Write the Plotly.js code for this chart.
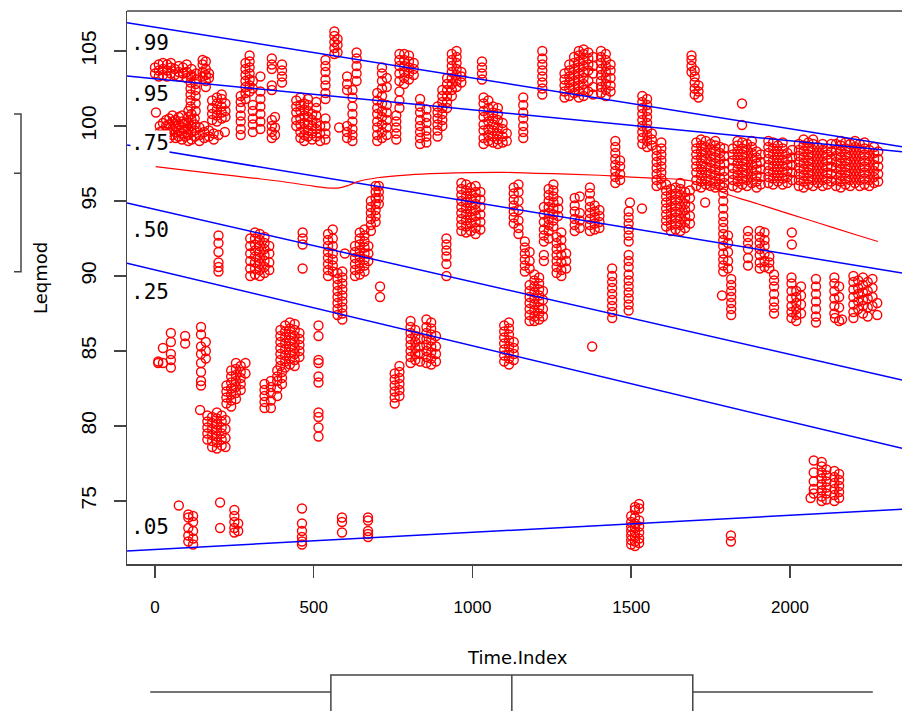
<!DOCTYPE html>
<html>
<head>
<meta charset="utf-8">
<script src="https://cdn.plot.ly/plotly-3.0.1.min.js"></script>
<style>html,body{margin:0;padding:0;background:#fff;}#chart{width:902px;height:711px;}</style>
</head>
<body>
<div id="chart"></div>
<script>
// ---- DATA: columns of points, each entry = [Time.Index, Leqmod values...] ----
const bandTop = [
  [3, 100.9],
  [0, 103.5, 103.9], [12, 103.3, 103.7, 104.1], [25, 103.4, 103.8, 104.2], [38, 103.3, 103.7, 104.1],
  [50, 103.5, 103.9, 104.2], [62, 103.4, 103.8], [75, 103.3, 103.6, 104.0], [88, 103.5, 103.9],
  [100, 103.2, 103.6, 104.1], [115, 103.4, 103.8], [130, 103.1, 103.5], [150, 103.3, 103.6, 104.1, 104.4],
  [170, 103.2, 103.5],
  [15, 99.6, 100.0], [25, 99.3, 99.7, 100.2], [35, 99.5, 100.0, 100.4], [45, 99.2, 99.6, 100.1, 100.5],
  [55, 99.4, 99.8, 100.3, 100.7], [65, 99.2, 99.6, 100.0, 100.4], [75, 99.3, 99.7, 100.1, 100.6],
  [85, 99.1, 99.5, 99.9, 100.3, 100.7], [95, 99.3, 99.8, 100.2], [105, 99.0, 99.4, 99.8, 100.2, 100.6, 101.0],
  [115, 99.1, 99.6, 100.0, 100.4, 100.8], [125, 99.3, 99.7, 100.1, 100.5], [140, 99.0, 99.4, 99.9],
  [155, 99.2, 99.6, 100.0], [170, 99.3, 99.7], [185, 99.1, 99.5],
  [112, 101.3, 101.7, 102.1, 102.5, 102.9, 103.3], [128, 101.0, 101.5, 102.0, 102.4, 102.8],
  [160, 102.6, 103.0, 103.4, 103.8, 104.3],
  [180, 100.4, 100.8, 101.2, 101.7], [195, 100.3, 100.7, 101.1, 101.5, 101.9],
  [210, 100.5, 100.9, 101.3, 101.8, 102.1], [222, 100.6, 101.0, 101.5], [200, 99.4], [220, 99.6],
  [270, 99.4, 99.8, 100.3, 100.7, 101.2, 101.6, 102.0], [285, 101.8, 102.2, 102.6, 103.0, 103.4, 103.8, 104.2],
  [298, 102.3, 102.7, 103.1, 103.5, 103.9, 104.3, 104.7], [308, 99.6, 100.1, 100.5, 101.0, 101.4, 102.5, 103.0],
  [332, 99.8, 100.3, 100.8, 101.3, 101.8, 102.3, 103.3],
  [368, 103.8, 104.1, 104.5, 102.4, 102.7, 99.2, 99.6, 100.0, 100.4], [378, 99.4, 99.9, 100.6],
  [400, 102.9, 103.3, 103.7, 104.1],
  [445, 100.0, 100.4, 100.9, 101.3, 101.7], [458, 99.2, 99.6, 100.1, 100.5, 101.0, 101.4, 101.9],
  [470, 99.0, 99.4, 99.8, 100.2, 100.7, 101.1, 101.5], [482, 99.3, 99.7, 100.1, 100.6, 101.0, 101.4, 101.8],
  [495, 99.1, 99.5, 100.0, 100.4, 100.8], [508, 99.3, 99.8, 100.2, 100.7, 101.2, 101.6], [520, 99.0, 99.5, 100.0],
  [537, 101.8, 102.2, 102.7, 103.1, 103.6, 104.0, 104.4, 99.1, 99.5, 100.0, 100.5],
  [565, 104.8, 105.2, 105.6, 106.0, 106.3], [575, 104.9, 105.4, 105.8], [580, 99.9],
  [605, 102.4, 102.8, 103.3, 99.2, 99.6, 100.0], [622, 99.0, 99.4, 99.8, 100.3, 100.8, 101.3, 101.9, 102.4],
  [635, 103.0, 103.5, 104.0, 104.5, 104.9],
  [700, 99.0, 99.4, 99.9, 100.3, 100.8, 101.2, 101.7, 102.2],
  [715, 99.2, 99.6, 100.1, 100.6, 101.0, 101.5, 102.0, 102.5, 103.0, 103.5, 103.9],
  [730, 99.4, 99.9, 100.4, 100.9, 101.4, 102.6, 103.2],
  [760, 99.1, 99.5, 99.9, 100.3, 100.7],
  [770, 101.2, 101.7, 102.3, 103.0, 103.5, 104.0, 104.4, 104.8], [785, 102.8, 103.2, 103.6, 104.0, 104.4, 104.8],
  [800, 103.1, 103.5, 103.9, 104.3, 104.7], [815, 103.4, 103.8, 104.2],
  [835, 98.8, 99.2, 99.6, 100.0, 100.4, 100.9, 101.3, 101.8], [855, 98.9, 99.3, 99.7, 100.2, 100.6, 101.1],
  [890, 99.3, 99.7, 100.1, 100.5, 100.9, 101.3], [905, 100.0, 100.4, 100.8, 101.2, 101.6, 102.0, 102.4],
  [920, 101.2, 101.6, 102.0, 102.4, 102.8, 103.2], [935, 102.0, 102.4, 102.8, 103.2, 103.6, 104.0, 104.4, 104.8],
  [950, 102.6, 103.0, 103.4, 103.8, 104.2, 104.6, 105.0], [965, 102.9, 103.3, 103.6],
  [1030, 103.1, 103.5, 103.9, 104.3],
  [1035, 98.8, 99.2, 99.7, 100.1, 100.6, 101.0, 101.5, 101.9], [1050, 99.0, 99.4, 99.8, 100.3, 100.7, 101.2, 101.7],
  [1065, 98.9, 99.3, 99.7, 100.1, 100.5, 100.9, 101.3], [1080, 98.8, 99.1, 99.5, 99.9, 100.4, 100.8, 101.2],
  [1095, 98.9, 99.3, 99.8, 100.2], [1108, 99.0, 99.5],
  [1160, 99.2, 99.6, 100.0, 100.5, 100.9, 101.4, 101.9],
  [1220, 102.1, 102.5, 102.9, 103.3, 103.7, 104.1, 104.5, 105.0],
  [1290, 101.9, 102.3, 102.7, 103.1, 103.5], [1305, 102.0, 102.5, 102.9, 103.3, 103.7, 104.1],
  [1320, 102.2, 102.6, 103.0, 103.4, 103.8, 104.2, 104.6],
  [1335, 101.9, 102.3, 102.7, 103.1, 103.5, 103.9, 104.3, 104.7, 105.0],
  [1350, 102.0, 102.4, 102.8, 103.2, 103.6, 104.0, 104.4, 104.8, 105.1],
  [1365, 102.3, 103.0, 103.7, 104.1, 104.5, 104.9], [1380, 102.1, 102.6, 103.5, 104.0, 104.6],
  [1405, 102.2, 102.6, 103.0, 103.4, 103.8, 104.2, 104.6, 105.0],
  [1420, 102.0, 102.4, 102.8, 103.2, 103.6, 104.0, 104.4, 104.8], [1435, 102.3, 102.7, 103.2, 103.7, 104.1],
  [1450, 96.2, 96.6, 97.0, 97.4, 97.8, 98.2, 98.6, 99.0], [1465, 96.4, 96.8, 97.3, 97.7],
  [1535, 98.8, 99.2, 99.6, 100.0, 100.4, 100.8, 101.2, 101.6, 102.0],
  [1550, 98.6, 99.0, 99.4, 99.8, 100.2, 100.6, 101.0, 101.4, 101.8], [1565, 98.7, 99.1, 99.5],
  [1580, 96.0, 96.4, 96.8, 97.2, 97.6, 98.0, 98.4], [1595, 96.1, 96.5, 96.9, 97.3, 97.7, 98.1, 98.5, 98.9],
  [1690, 103.6, 104.0, 104.4, 104.7], [1700, 102.1, 102.5, 102.9, 103.3, 103.7], [1712, 101.9, 102.3, 102.7],
  [1849, 101.5, 100.07]
];
const bandRightTop = [
  [1705, 96.0, 96.4, 96.9, 97.3, 97.7, 98.1, 98.5, 98.9], [1720, 95.9, 96.3, 96.7, 97.1, 97.5, 97.9, 98.3, 98.7, 99.1],
  [1735, 96.1, 96.5, 96.9, 97.3, 97.8, 98.2, 98.6, 99.0], [1750, 96.0, 96.4, 96.8, 97.2, 97.6, 98.0, 98.4, 98.8],
  [1765, 95.9, 96.3, 96.7, 97.1, 97.5, 97.9, 98.3, 98.7, 99.0], [1780, 96.1, 96.5, 97.0, 97.4, 97.8, 98.2, 98.6],
  [1793, 96.2, 96.6, 97.0, 97.5, 98.0, 98.5],
  [1820, 96.0, 96.4, 96.8, 97.2, 97.7, 98.1, 98.5], [1835, 95.9, 96.3, 96.7, 97.1, 97.5, 97.9, 98.3, 98.7, 99.0],
  [1850, 96.1, 96.5, 96.9, 97.3, 97.7, 98.1, 98.5, 98.9], [1865, 96.0, 96.4, 96.8, 97.2, 97.6, 98.0, 98.4, 98.8],
  [1880, 96.2, 96.6, 97.0, 97.4, 97.8, 98.2, 98.6, 99.0], [1895, 95.9, 96.3, 96.7, 97.1, 97.5, 97.9, 98.3],
  [1908, 96.1, 96.6, 97.1, 97.6, 98.1],
  [1932, 96.2, 96.6, 97.0, 97.4, 97.8, 98.2, 98.6, 99.0], [1947, 96.1, 96.5, 96.9, 97.3, 97.7, 98.1, 98.5, 98.9],
  [1962, 96.3, 96.7, 97.1, 97.5, 97.9, 98.3, 98.7], [1977, 96.1, 96.5, 96.9, 97.3, 97.7, 98.1, 98.5, 98.9],
  [1992, 96.2, 96.6, 97.0, 97.4, 97.8, 98.2], [2007, 96.4, 96.9, 97.4, 97.9, 98.4],
  [2028, 96.0, 96.4, 96.8, 97.2, 97.6, 98.0, 98.4, 98.8], [2043, 95.9, 96.3, 96.7, 97.1, 97.5, 97.9, 98.3, 98.7, 99.1],
  [2058, 96.1, 96.5, 96.9, 97.3, 97.7, 98.1, 98.5, 98.9], [2073, 96.0, 96.4, 96.8, 97.2, 97.6, 98.0, 98.4, 98.8, 99.1],
  [2088, 96.2, 96.6, 97.0, 97.4, 97.8, 98.2, 98.6], [2103, 96.0, 96.4, 96.8, 97.2, 97.6, 98.0, 98.4, 98.8],
  [2118, 96.1, 96.5, 96.9, 97.3, 97.7, 98.1, 98.5], [2130, 96.3, 96.8, 97.3, 97.8, 98.3, 98.8],
  [2145, 96.0, 96.4, 96.8, 97.2, 97.6, 98.0, 98.4, 98.8], [2160, 95.9, 96.3, 96.7, 97.1, 97.5, 97.9, 98.3, 98.7, 99.0],
  [2175, 96.1, 96.5, 96.9, 97.3, 97.7, 98.1, 98.5, 98.9], [2190, 96.0, 96.4, 96.8, 97.2, 97.6, 98.0, 98.4, 98.8],
  [2205, 96.2, 96.6, 97.0, 97.4, 97.8, 98.2, 98.6, 99.0], [2220, 96.0, 96.4, 96.8, 97.2, 97.6, 98.0, 98.4, 98.8],
  [2235, 96.1, 96.5, 96.9, 97.3, 97.7, 98.1, 98.5, 98.9], [2250, 96.0, 96.4, 96.8, 97.2, 97.6, 98.0, 98.4],
  [2265, 96.2, 96.6, 97.0, 97.4, 97.8, 98.2, 98.6], [2278, 96.3, 96.8, 97.3, 97.8, 98.3]
];
const bandMiddle = [
  [200, 90.3, 90.6, 90.9, 91.6, 92.2, 92.7],
  [300, 90.0, 90.5, 91.0, 91.5, 92.0, 92.5], [315, 90.1, 90.5, 90.9, 91.3, 91.7, 92.1, 92.5, 92.9],
  [330, 90.0, 90.4, 90.8, 91.2, 91.6, 92.0, 92.4, 92.8], [345, 90.2, 90.6, 91.0, 91.4, 91.8, 92.2, 92.6],
  [360, 90.4, 90.9, 91.5, 92.0],
  [465, 92.1, 92.5, 92.9, 90.5],
  [545, 90.0, 90.4, 90.8, 91.2, 91.6, 92.0, 92.4, 92.8], [560, 90.3, 90.7, 91.1, 91.5, 92.0, 92.5, 93.1],
  [598, 91.5],
  [575, 87.4, 87.8, 88.2, 88.6, 89.0, 89.4, 89.8, 90.2], [590, 87.1, 87.5, 87.9, 88.3, 88.7, 89.1, 89.5, 89.9, 90.3],
  [630, 90.0, 90.4, 90.8, 91.2, 91.6, 92.0], [645, 90.1, 90.5, 90.9, 91.3, 91.7, 92.1, 92.5, 92.9],
  [660, 90.3, 90.7, 91.1, 91.5, 91.9, 92.3, 92.7, 93.1], [672, 91.0, 91.5, 92.0],
  [680, 93.0, 93.4, 93.8, 94.2, 94.6, 95.0], [695, 93.6, 94.0, 94.4, 94.8, 95.2, 95.6, 96.0], [705, 94.8, 95.2, 95.6, 96.0],
  [709, 89.3, 88.6],
  [918, 90.0, 90.8, 91.3, 91.7, 92.1, 92.5],
  [965, 93.0, 93.4, 93.8, 94.2, 94.6, 95.0, 95.4, 95.8, 96.2], [980, 92.9, 93.3, 93.7, 94.1, 94.5, 94.9, 95.3, 95.7, 96.1],
  [995, 93.0, 93.5, 93.9, 94.3, 94.7, 95.1, 95.5, 95.9], [1010, 92.8, 93.2, 93.6, 94.0, 94.4, 94.8, 95.2, 95.6, 96.0],
  [1025, 93.1, 93.6, 94.1, 94.6, 95.1, 95.6],
  [1130, 93.5, 93.9, 94.3, 94.7, 95.1, 95.5, 95.9], [1145, 92.8, 93.2, 93.7, 94.4, 95.0, 95.6, 96.1],
  [1165, 90.3, 90.7, 91.1, 91.5, 91.9, 92.3], [1180, 90.5, 91.0, 91.6],
  [1225, 92.3, 92.7, 93.1, 93.6, 94.1, 94.6, 91.0, 91.4],
  [1240, 92.5, 93.0, 93.4, 93.8, 94.2, 94.6, 95.0, 95.4, 95.8], [1255, 93.3, 93.7, 94.1, 94.5, 94.9, 95.3, 95.7, 96.1],
  [1270, 94.0, 94.5, 95.0],
  [1265, 90.2, 90.6, 91.0, 91.4, 91.8, 92.2, 92.6], [1280, 90.0, 90.4, 90.9, 91.4, 91.9, 92.4, 92.9], [1295, 90.5, 91.0, 91.5],
  [1180, 87.0, 87.4, 87.8, 88.2, 88.6, 89.0, 89.4], [1195, 87.0, 87.3, 87.7, 88.1, 88.5, 88.9, 89.3, 89.7, 90.1],
  [1210, 87.1, 87.5, 87.9, 88.3, 88.7, 89.1, 89.5, 89.9], [1222, 87.3, 87.8, 88.4, 89.0],
  [1322, 93.0, 93.4, 93.8, 94.3, 94.7, 95.2], [1338, 93.2, 93.7, 94.2, 95.3],
  [1370, 93.0, 93.4, 93.8, 94.2, 94.6, 95.0, 95.5, 95.9], [1385, 93.1, 93.5, 93.9, 94.3, 94.7], [1400, 93.2, 93.6, 94.0, 94.4],
  [1440, 87.2, 87.6, 88.0, 88.4, 88.8, 89.2, 89.6, 90.0, 90.5],
  [1492, 87.7, 88.1, 88.5, 88.9, 89.3, 89.7, 90.1, 90.6, 91.0, 91.4, 92.3, 92.7, 93.1, 93.5, 93.9, 94.3],
  [1496, 94.9], [1534, 94.5],
  [1610, 93.3, 93.7, 94.1, 94.5, 94.9, 95.3, 95.7, 96.1], [1625, 93.0, 93.4, 93.8, 94.2, 94.6, 95.0, 95.4, 95.8],
  [1640, 93.1, 93.5, 93.9, 94.3, 94.7, 95.1, 95.5, 95.9], [1655, 93.0, 93.4, 93.8, 94.2, 94.6, 95.0, 95.4, 95.8, 96.2],
  [1670, 93.2, 93.6, 94.0, 94.4, 94.8, 95.2, 95.6], [1685, 93.5, 94.0, 94.6, 95.2, 95.7],
  [1733, 94.9],
  [1790, 90.3, 90.7, 91.1, 91.5, 92.0, 92.4, 92.8, 93.2, 93.6, 94.0, 94.5, 95.0, 95.5, 95.9],
  [1805, 90.5, 91.0, 91.6, 92.2, 92.7], [1815, 87.4, 87.8, 88.2, 88.6, 89.0, 89.4, 89.8], [1786, 88.7],
  [1868, 90.7, 91.2, 91.8, 92.2, 92.6, 93.0],
  [1905, 90.5, 90.9, 91.4, 91.8, 92.2, 92.6, 93.0], [1920, 90.6, 91.0, 91.5, 92.0, 92.4, 92.9], [1935, 90.5, 90.9, 91.3],
  [2006, 92.9, 92.1],
  [1950, 87.5, 87.9, 88.3, 88.8, 89.3, 89.7, 90.1],
  [2005, 87.2, 87.6, 88.0, 88.5, 89.0, 89.5, 89.9], [2020, 87.0, 87.4, 87.8, 88.2, 88.6, 89.0], [2035, 87.5, 88.1, 88.7, 89.3],
  [2082, 86.9, 87.3, 87.8, 88.3, 88.8, 89.3, 89.8],
  [2140, 87.5, 88.0, 88.5, 89.0, 89.5, 89.9], [2155, 87.0, 87.9, 88.6, 89.3], [2142, 87.2], [2164, 87.1],
  [2200, 87.2, 87.6, 88.1, 88.6, 89.1, 89.6, 90.0], [2215, 87.8, 88.3, 88.8, 89.2, 89.7],
  [2230, 87.5, 88.0, 88.4, 88.9, 89.4, 89.9], [2245, 87.3, 87.9, 88.5, 89.0, 89.6], [2260, 88.0, 88.6, 89.2, 89.8],
  [2275, 87.4, 88.2]
];
const bandLower = [
  [10, 84.2, 84.3], [25, 85.2, 84.2], [50, 86.2, 85.6, 84.8, 84.4, 83.9], [95, 86.0, 85.5],
  [145, 82.7, 83.0, 83.6, 84.2, 84.8, 85.3, 86.1, 86.6], [160, 84.5, 85.0, 85.6], [142, 81.07],
  [165, 79.1, 79.5, 79.9, 80.3, 80.7], [180, 78.6, 79.0, 79.4, 79.8, 80.2, 80.6],
  [195, 78.5, 78.9, 79.3, 79.7, 80.1, 80.5, 80.9], [210, 78.7, 79.1, 79.5, 79.9, 80.3, 80.7], [222, 78.6, 79.2, 79.8, 80.4],
  [225, 81.5, 81.9, 82.3, 82.7], [240, 81.3, 81.7, 82.1, 82.5, 82.9, 83.3, 83.7],
  [255, 81.8, 82.2, 82.6, 83.0, 83.4, 83.8, 84.2], [270, 82.4, 82.8, 83.2, 83.6, 84.0], [285, 83.5, 84.2],
  [345, 81.2, 81.6, 82.0, 82.4, 82.8], [365, 81.2, 81.7, 82.2, 82.6, 83.0], [385, 82.0, 82.5, 83.0, 83.3, 83.7],
  [400, 82.8, 83.2, 83.6],
  [395, 84.0, 84.4, 84.8, 85.2, 85.6, 86.0, 86.4], [410, 83.9, 84.3, 84.7, 85.1, 85.5, 85.9, 86.3, 86.7],
  [425, 84.1, 84.5, 84.9, 85.3, 85.7, 86.1, 86.5, 86.9], [440, 84.0, 84.4, 84.8, 85.2, 85.6, 86.0, 86.4, 86.8],
  [455, 84.6, 85.0, 85.4, 85.8, 86.2],
  [515, 86.7, 86.0, 84.4, 84.2, 83.3, 82.9, 80.9, 80.6, 79.9, 79.3],
  [755, 81.5, 81.9, 82.3, 82.7, 83.1, 83.5], [770, 82.0, 82.4, 82.8, 83.2, 83.6, 84.0],
  [805, 84.2, 84.6, 85.0, 85.4, 85.8, 86.2, 86.6, 87.0], [820, 84.4, 84.8, 85.2, 85.6, 86.0, 86.4], [835, 84.3, 84.8, 85.3, 85.8],
  [855, 84.2, 84.6, 85.0, 85.4, 85.8, 86.2, 86.6, 87.1], [870, 84.1, 84.5, 84.9, 85.3, 85.7, 86.1, 86.5, 86.9],
  [885, 84.3, 84.8, 85.3, 86.0],
  [1100, 84.3, 84.7, 85.1, 85.5, 85.9, 86.3, 86.7], [1115, 84.1, 84.5, 84.9, 85.3, 85.7, 86.1, 86.5, 86.9],
  [1130, 84.4, 84.8, 85.2, 85.6], [1377, 85.3],
  [2065, 75.2], [2075, 75.5, 75.8, 76.3, 76.9, 77.7], [2100, 75.0, 75.3, 75.7, 76.1, 76.5, 76.9, 77.3, 77.6],
  [2115, 75.1, 75.5, 75.9, 76.3, 76.7, 77.1], [2140, 75.0, 75.4, 75.8, 76.2, 76.6, 77.0], [2155, 75.2, 75.6, 76.0, 76.4, 76.8]
];
const bandBottom = [
  [75, 74.7], [105, 72.3, 72.7, 73.2, 73.9, 74.1], [120, 72.1, 72.5, 73.0, 73.6, 74.0], [205, 74.9, 73.2],
  [250, 72.9, 73.2, 73.6, 74.0, 74.4], [262, 73.0, 73.5],
  [463, 74.5, 73.5, 73.0, 72.6, 72.3, 72.1], [589, 73.9, 73.6, 72.9], [671, 73.9, 73.7, 73.0, 72.8, 72.6],
  [1500, 72.1, 72.4, 72.7, 73.0, 73.3, 73.6, 74.0], [1512, 72.0, 72.3, 72.6, 72.9, 73.2, 73.5, 73.9, 74.4, 74.6],
  [1525, 72.2, 72.5, 72.9, 73.3, 73.7, 74.5, 74.8], [1814, 72.7, 72.3]
];

// smooth (loess) curve
const timeSmooth = [2, 100, 200, 300, 400, 480, 540, 580, 610, 640, 700, 800, 900, 1000, 1100, 1200, 1300, 1400, 1500, 1600, 1650, 1700, 1750, 1800, 1900, 2000, 2100, 2200, 2277];
const leqSmooth  = [97.3, 97.05, 96.8, 96.55, 96.3, 96.05, 95.88, 95.88, 96.05, 96.3, 96.55, 96.75, 96.85, 96.9, 96.91, 96.85, 96.8, 96.72, 96.6, 96.5, 96.45, 96.3, 95.98, 95.47, 94.8, 94.13, 93.47, 92.8, 92.3];

// quantile regression lines, values at both ends of the x range
const quantX = [-88, 2353];
const quantNames = ['.99', '.95', '.75', '.50', '.25', '.05'];
const q99 = [106.89, 98.62];
const q95 = [103.33, 98.29];
const q75 = [98.73, 90.2];
const q50 = [94.87, 83.07];
const q25 = [90.85, 78.51];
const q05 = [71.67, 74.45];
const quantLabelY = [105.53, 102.15, 98.87, 93.07, 88.95, 73.29];

// marginal boxplot summaries
const timeStats = [-15, 554, 1124, 1694, 2261];   // min, Q1, median, Q3, max
const leqStats = [90.29, 96.85, 100.8];           // Q1, median, Q3

const xTicks = [0, 500, 1000, 1500, 2000];
const yTicks = [75, 80, 85, 90, 95, 100, 105];

// ---- build ----
const timeIndex = [], leqmod = [];
[bandTop, bandRightTop, bandMiddle, bandLower, bandBottom].forEach(band => {
  band.forEach(col => { for (let i = 1; i < col.length; i++) { timeIndex.push(col[0]); leqmod.push(col[i]); } });
});

const W = 902, H = 711;
const px = v => v / W, py = v => (H - v) / H;
const AX = '#444';

const traces = [];
traces.push({
  type: 'scatter', mode: 'markers', x: timeIndex, y: leqmod, xaxis: 'x', yaxis: 'y',
  marker: { symbol: 'circle-open', size: 9, color: '#ff0000', line: { width: 1.4, color: '#ff0000' } },
  hoverinfo: 'skip', showlegend: false
});
[q99, q95, q75, q50, q25, q05].forEach(q => traces.push({
  type: 'scatter', mode: 'lines', x: quantX, y: q, xaxis: 'x', yaxis: 'y',
  line: { color: '#0000ff', width: 1.5 }, showlegend: false, hoverinfo: 'skip'
}));
traces.push({
  type: 'scatter', mode: 'lines', x: timeSmooth, y: leqSmooth, xaxis: 'x', yaxis: 'y',
  line: { color: '#ff0000', width: 1.2, shape: 'spline' }, showlegend: false, hoverinfo: 'skip'
});
// left marginal box (y)
const bxR = 21 / 45, bxL = 14 / 45;
traces.push({
  type: 'scatter', mode: 'lines', xaxis: 'x2', yaxis: 'y',
  x: [bxL, bxR, bxR, bxL, null, bxL, bxR],
  y: [leqStats[2], leqStats[2], leqStats[0], leqStats[0], null, leqStats[1], leqStats[1]],
  line: { color: AX, width: 1.5 }, showlegend: false, hoverinfo: 'skip'
});
// bottom marginal box (x)
const wy = 0.3725, bt = 0.706, bb = -1;
traces.push({
  type: 'scatter', mode: 'lines', xaxis: 'x', yaxis: 'y2',
  x: [timeStats[0], timeStats[1], null, timeStats[3], timeStats[4], null,
      timeStats[1], timeStats[1], timeStats[3], timeStats[3], null, timeStats[2], timeStats[2]],
  y: [wy, wy, null, wy, wy, null, bb, bt, bt, bb, null, bb, bt],
  line: { color: AX, width: 1.5 }, showlegend: false, hoverinfo: 'skip'
});

const annotations = quantNames.map((t, i) => ({
  text: t, xref: 'paper', x: px(130), xanchor: 'left', yref: 'y', y: quantLabelY[i], yanchor: 'middle',
  showarrow: false, font: { family: 'DejaVu Sans Mono', size: 21, color: '#000' },
  bgcolor: t === '.75' ? '#ffffff' : 'rgba(0,0,0,0)', borderpad: 0
}));
annotations.push({ text: 'Leqmod', xref: 'paper', yref: 'paper', x: px(40), y: py(278), xanchor: 'center', yanchor: 'middle',
  showarrow: false, textangle: -90, font: { family: 'DejaVu Sans', size: 18, color: '#000' } });
annotations.push({ text: 'Time.Index', xref: 'paper', yref: 'paper', x: px(517), y: py(657), xanchor: 'center', yanchor: 'middle',
  showarrow: false, font: { family: 'DejaVu Sans', size: 18, color: '#000' } });

const layout = {
  width: W, height: H, margin: { l: 0, r: 0, t: 0, b: 0 }, paper_bgcolor: '#fff', plot_bgcolor: '#fff',
  showlegend: false,
  xaxis: { domain: [px(127), 1], range: [-88.2, 2353], tickvals: xTicks, ticktext: xTicks.map(String),
    ticks: 'outside', ticklen: 12, tickwidth: 1.5, tickcolor: AX, showline: true, linecolor: AX, linewidth: 1.5,
    showgrid: false, zeroline: false, anchor: 'y', ticklabelstandoff: 15,
    tickfont: { family: 'Liberation Sans', size: 17, color: '#000' } },
  yaxis: { domain: [py(564.3), py(11)], range: [70.78, 107.67], tickvals: yTicks, ticktext: yTicks.map(String),
    ticks: 'outside', ticklen: 12, tickwidth: 1.5, tickcolor: AX, showline: true, linecolor: AX, linewidth: 1.5,
    showgrid: false, zeroline: false, anchor: 'x', tickangle: -90, ticklabelstandoff: 9,
    tickfont: { family: 'Liberation Sans', size: 21, color: '#000' } },
  xaxis2: { domain: [0, px(45)], range: [0, 1], visible: false, anchor: 'y', fixedrange: true },
  yaxis2: { domain: [0, 51 / H], range: [0, 1], visible: false, anchor: 'x', fixedrange: true },
  shapes: [{ type: 'line', xref: 'paper', yref: 'y domain', x0: px(127), x1: 1, y0: 1, y1: 1,
    line: { color: AX, width: 1.5 } }],
  annotations: annotations
};

Plotly.newPlot('chart', traces, layout, { staticPlot: true, displayModeBar: false });
</script>
</body>
</html>
